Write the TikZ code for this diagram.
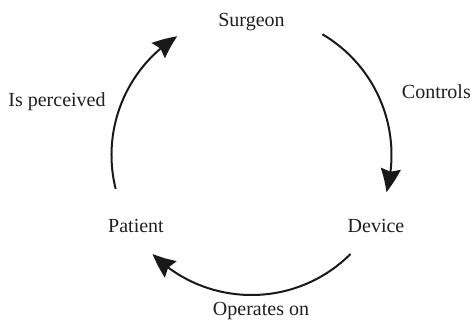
\documentclass[tikz,border=0pt]{standalone}
\usepackage{fontspec}
\setmainfont{Liberation Serif}
\usetikzlibrary{arrows.meta,bending}
\begin{document}
\begin{tikzpicture}[x=1pt,y=1pt,
  lbl/.style={font=\fontsize{20}{24}\selectfont, text=black!88, inner sep=0pt, anchor=base},
  cyc/.style={line width=2pt, draw=black!90,
    -{Stealth[length=24pt,width=20pt,inset=3pt,bend]}}]
\useasboundingbox (0,0) rectangle (473,321);

% centre of the cycle and its radius
\coordinate (c) at (251.5,166);
\def\rad{140}

% the three actors and the three relations
\node[lbl] (surgeon)  at (251.5,294) {Surgeon};
\node[lbl] (device)   at (376,88)    {Device};
\node[lbl] (patient)  at (136,88)    {Patient};
\node[lbl,anchor=base east] (controls) at (471,222) {Controls};
\node[lbl] (operates) at (261,6)     {Operates on};
\node[lbl] (perceived)at (57,214)    {Is perceived};

% ends of the arcs on the circle
\coordinate (s-out) at ([shift={(59.6:\rad)}]c);
\coordinate (d-out) at ([shift={(-45:\rad)}]c);
\coordinate (p-out) at ([shift={(194:\rad)}]c);

% Surgeon -> Device
\draw[cyc] (s-out) arc[start angle=59.6, end angle=-15.4, radius=\rad];
% Device -> Patient
\draw[cyc] (d-out) arc[start angle=-45, end angle=-135, radius=\rad];
% Patient -> Surgeon
\draw[cyc] (p-out) arc[start angle=194, end angle=122, radius=\rad];
\end{tikzpicture}
\end{document}
